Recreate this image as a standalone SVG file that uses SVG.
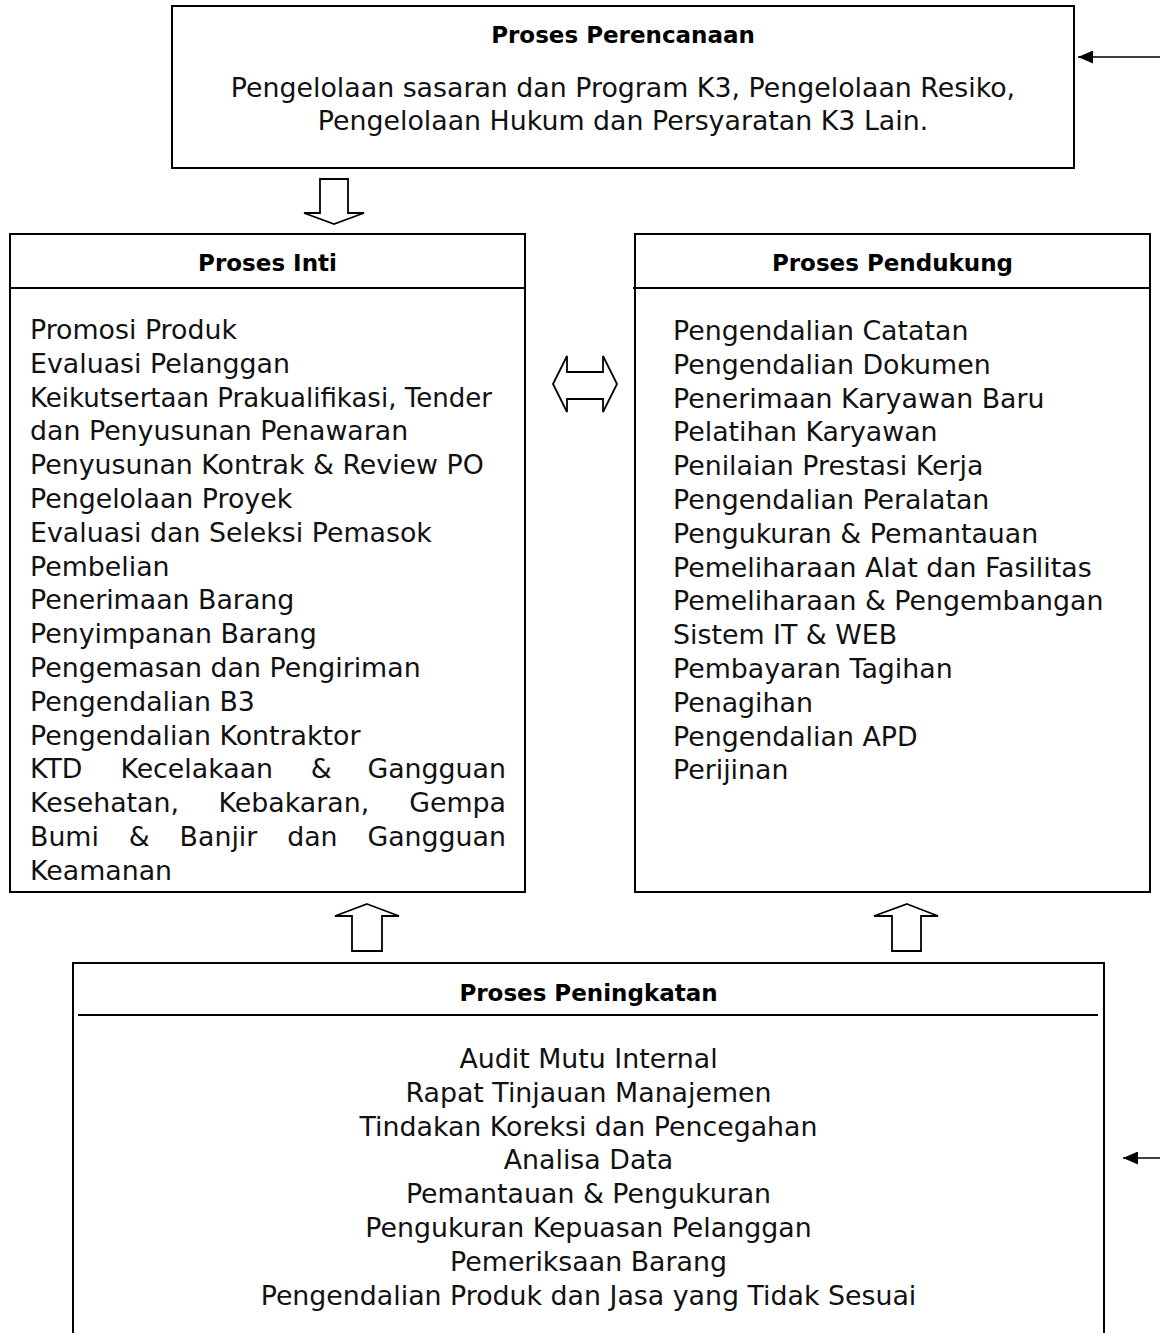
<svg xmlns="http://www.w3.org/2000/svg" width="1160" height="1333" viewBox="0 0 1160 1333">
<style>
.box{fill:none;stroke:#000;stroke-width:2}
.sep{stroke:#000;stroke-width:2}
.hollow{fill:#fff;stroke:#000;stroke-width:1.8;stroke-linejoin:miter}
.line{stroke:#000;stroke-width:1.6;fill:none}
.t{font-family:"DejaVu Sans",sans-serif;font-size:26.8px;fill:#111}
.h{font-family:"DejaVu Sans",sans-serif;font-size:23px;font-weight:bold;fill:#000;text-anchor:middle}
.c{text-anchor:middle}
</style>
<defs>
<marker id="ah" viewBox="0 0 15 13" refX="15" refY="6.5" markerWidth="15" markerHeight="13" markerUnits="userSpaceOnUse" orient="auto">
<path d="M0,0 L15,6.5 L0,13 z" fill="#000"/>
</marker>
</defs>
<rect width="1160" height="1333" fill="#fff"/>

<g id="perencanaan">
<rect class="box" x="172" y="6" width="902" height="162"/>
<text class="h" x="623" y="42.5">Proses Perencanaan</text>
<text class="t c" x="623" y="97">Pengelolaan sasaran dan Program K3, Pengelolaan Resiko,</text>
<text class="t c" x="623" y="130">Pengelolaan Hukum dan Persyaratan K3 Lain.</text>
</g>

<g id="inti">
<rect class="box" x="10" y="234" width="515" height="658"/>
<line class="sep" x1="10" y1="288" x2="525" y2="288"/>
<text class="h" x="267.5" y="270.5">Proses Inti</text>
<text class="t" x="30" y="339">Promosi Produk</text>
<text class="t" x="30" y="372.8">Evaluasi Pelanggan</text>
<text class="t" x="30" y="406.6" textLength="462" lengthAdjust="spacingAndGlyphs">Keikutsertaan Prakualifikasi, Tender</text>
<text class="t" x="30" y="440.4">dan Penyusunan Penawaran</text>
<text class="t" x="30" y="474.2">Penyusunan Kontrak &amp; Review PO</text>
<text class="t" x="30" y="508">Pengelolaan Proyek</text>
<text class="t" x="30" y="541.8">Evaluasi dan Seleksi Pemasok</text>
<text class="t" x="30" y="575.6">Pembelian</text>
<text class="t" x="30" y="609.4">Penerimaan Barang</text>
<text class="t" x="30" y="643.2">Penyimpanan Barang</text>
<text class="t" x="30" y="677">Pengemasan dan Pengiriman</text>
<text class="t" x="30" y="710.8">Pengendalian B3</text>
<text class="t" x="30" y="744.6">Pengendalian Kontraktor</text>
<text class="t" y="778.4"><tspan x="30">KTD</tspan> <tspan x="120.4">Kecelakaan</tspan> <tspan x="310.7">&amp;</tspan> <tspan x="367.4">Gangguan</tspan></text>
<text class="t" y="812.2"><tspan x="30">Kesehatan,</tspan> <tspan x="218.6">Kebakaran,</tspan> <tspan x="409.2">Gempa</tspan></text>
<text class="t" y="846"><tspan x="30">Bumi</tspan> <tspan x="128.8">&amp;</tspan> <tspan x="179.6">Banjir</tspan> <tspan x="287.2">dan</tspan> <tspan x="367.4">Gangguan</tspan></text>
<text class="t" x="30" y="879.8">Keamanan</text>
</g>

<g id="pendukung">
<rect class="box" x="635" y="234" width="515" height="658"/>
<line class="sep" x1="633" y1="288" x2="1150" y2="288"/>
<text class="h" x="892.5" y="270.5">Proses Pendukung</text>
<text class="t" x="673" y="340">Pengendalian Catatan</text>
<text class="t" x="673" y="373.8">Pengendalian Dokumen</text>
<text class="t" x="673" y="407.6">Penerimaan Karyawan Baru</text>
<text class="t" x="673" y="441.4">Pelatihan Karyawan</text>
<text class="t" x="673" y="475.2">Penilaian Prestasi Kerja</text>
<text class="t" x="673" y="509">Pengendalian Peralatan</text>
<text class="t" x="673" y="542.8">Pengukuran &amp; Pemantauan</text>
<text class="t" x="673" y="576.6">Pemeliharaan Alat dan Fasilitas</text>
<text class="t" x="673" y="610.4">Pemeliharaan &amp; Pengembangan</text>
<text class="t" x="673" y="644.2">Sistem IT &amp; WEB</text>
<text class="t" x="673" y="678">Pembayaran Tagihan</text>
<text class="t" x="673" y="711.8">Penagihan</text>
<text class="t" x="673" y="745.6">Pengendalian APD</text>
<text class="t" x="673" y="779.4">Perijinan</text>
</g>

<g id="peningkatan">
<path class="box" d="M73,1333 V963 H1104 V1333"/>
<line class="sep" x1="78" y1="1015" x2="1098" y2="1015"/>
<text class="h" x="588.5" y="1000.5">Proses Peningkatan</text>
<text class="t c" x="588.5" y="1068">Audit Mutu Internal</text>
<text class="t c" x="588.5" y="1101.8">Rapat Tinjauan Manajemen</text>
<text class="t c" x="588.5" y="1135.6">Tindakan Koreksi dan Pencegahan</text>
<text class="t c" x="588.5" y="1169.4">Analisa Data</text>
<text class="t c" x="588.5" y="1203.2">Pemantauan &amp; Pengukuran</text>
<text class="t c" x="588.5" y="1237">Pengukuran Kepuasan Pelanggan</text>
<text class="t c" x="588.5" y="1270.8">Pemeriksaan Barang</text>
<text class="t c" x="588.5" y="1304.6">Pengendalian Produk dan Jasa yang Tidak Sesuai</text>
</g>

<g id="connectors">
<polygon class="hollow" points="320,179 348,179 348,213 364,213 334,224 304,213 320,213"/>
<polygon class="hollow" points="553,384 567,356 567,372 603,372 603,356 617,384 603,412 603,399 567,399 567,412"/>
<polygon class="hollow" points="367,904 399,916 382,916 382,951 352,951 352,916 335,916"/>
<polygon class="hollow" points="907,904 938,916 921,916 921,951 892,951 892,916 874,916"/>
<line class="line" x1="1160" y1="57" x2="1078" y2="57" marker-end="url(#ah)"/>
<line class="line" x1="1160" y1="1158" x2="1123" y2="1158" marker-end="url(#ah)"/>
</g>
</svg>
